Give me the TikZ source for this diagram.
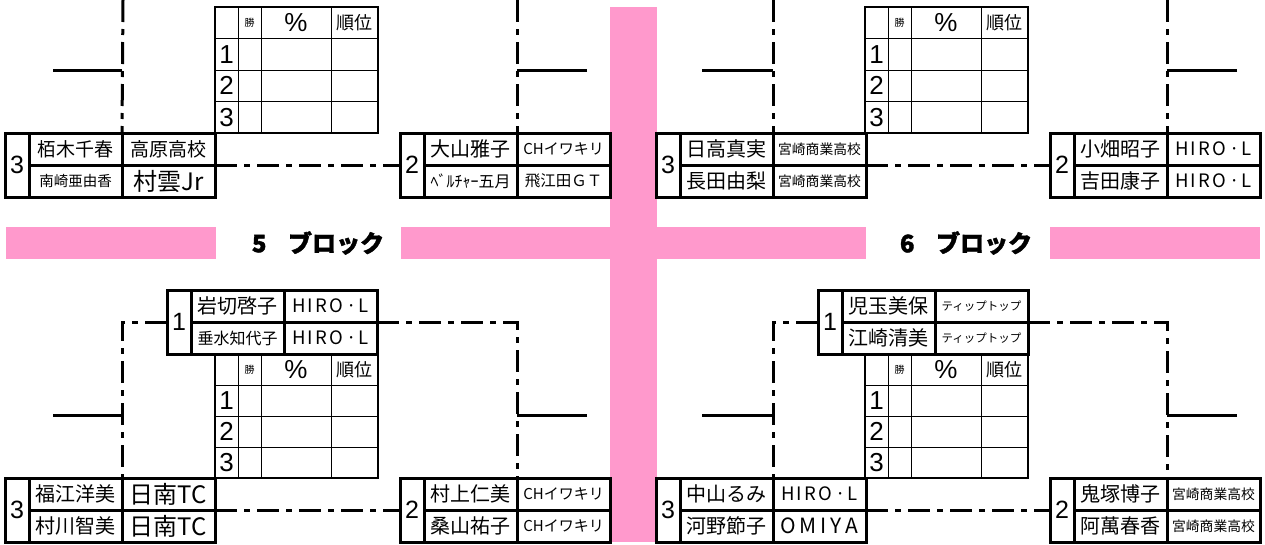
\documentclass[tikz,border=0pt]{standalone}
\usepackage{fontspec}
\setmainfont{Liberation Sans}
\newfontfamily\jp{Noto Sans CJK JP}
\newfontfamily\jpheavy{Noto Sans CJK JP}[FakeBold=1.5]
\usetikzlibrary{calc}
\definecolor{pinkc}{RGB}{255,153,204}
\newcommand\fsz[1]{\fontsize{#1}{#1}\selectfont}
\newcommand\hiro{{\fsz{18.5}\makebox[77pt][s]{H\hfill I\hfill R\hfill O\hfill ·\hfill L}}}
\newcommand\team[8]{%
  \node[tbox, minimum width=210pt, minimum height=64pt, anchor=north west] (#1) at (#2,#3) {};
  \node[tcell, minimum width=24pt, minimum height=64pt, anchor=north west, font=\rmfamily] (#1-k) at (#2,#3) {\fsz{25}#4};
  \node[tcell, minimum width=93pt, minimum height=32pt, anchor=north west] (#1-a) at ({#2+24},#3) {#5};
  \node[tcell, minimum width=93pt, minimum height=32pt, anchor=north west] (#1-b) at ({#2+117},#3) {#6};
  \node[tcell, minimum width=93pt, minimum height=32pt, anchor=north west] (#1-c) at ({#2+24},{#3+32}) {#7};
  \node[tcell, minimum width=93pt, minimum height=32pt, anchor=north west] (#1-d) at ({#2+117},{#3+32}) {#8};
}
\newcommand\restable[4]{%
  \pgfmathsetmacro\rowh{#4/4}
  \foreach \kk in {1,2,3} \draw[gridl] (#2,{#3+\kk*\rowh}) -- ({#2+163},{#3+\kk*\rowh});
  \foreach \cc in {23,46,116} \draw[gridl] ({#2+\cc},#3) -- ({#2+\cc},{#3+#4});
  \draw[gridb] (#2,#3) rectangle ({#2+163},{#3+#4});
  \node[tt] (#1-h1) at ({#2+34.5},{#3+\rowh/2}) {\jp\fsz{10}勝};
  \node[tt] (#1-h2) at ({#2+81},{#3+\rowh/2}) {\fsz{26}\%};
  \node[tt] (#1-h3) at ({#2+139.5},{#3+\rowh/2}) {\jp\fsz{18}順位};
  \node[tt] (#1-r1) at ({#2+11.5},{#3+1.5*\rowh}) {\fsz{26}1};
  \node[tt] (#1-r2) at ({#2+11.5},{#3+2.5*\rowh}) {\fsz{26}2};
  \node[tt] (#1-r3) at ({#2+11.5},{#3+3.5*\rowh}) {\fsz{26}3};
}
\begin{document}
\begin{tikzpicture}[x=1pt,y=-1pt,
  tbox/.style={draw, line width=3pt, inner sep=0pt, outer sep=0pt},
  tcell/.style={draw, line width=3pt, inner sep=0pt, outer sep=0pt, font=\jp},
  gridl/.style={line width=1pt},
  gridb/.style={line width=1.6pt},
  tt/.style={inner sep=0pt},
  dd/.style={line width=3pt, dash pattern=on 22pt off 7pt on 6pt off 7pt},
  stub/.style={line width=3pt},
  title/.style={font=\jpheavy\bfseries\fsz{24}, inner sep=0pt}]
\useasboundingbox (0,0) rectangle (1265,544);
% pink bands
\fill[pinkc] (610,7) rectangle (657,542);
\fill[pinkc] (6,227) rectangle (216,259);
\fill[pinkc] (401,227) rectangle (866,259);
\fill[pinkc] (1050,227) rectangle (1260,259);
\node[title] (t5) at (318,243) {5\hspace{0.9em}ブロック};
\node[title] (t6) at (966,243) {6\hspace{0.9em}ブロック};
% tables
\restable{RA}{215}{7}{126}
\restable{RB}{865}{7}{126}
\restable{RC}{215}{354}{124}
\restable{RD}{865}{354}{124}
% upper teams
\team{TA}{5}{133}{3}{\fsz{19}栢木千春}{\fsz{19}高原高校}{\fsz{14.5}南崎亜由香}{\fsz{24}村雲Jr}
\team{TB}{400}{133}{2}{\fsz{20}大山雅子}{\fsz{15}CHイワキリ}{\fsz{16}ﾍﾞﾙﾁｬｰ五月}{\fsz{15.5}飛江田ＧＴ}
\team{TC}{656}{133}{3}{\fsz{20}日高真実}{\fsz{13.8}宮崎商業高校}{\fsz{20}長田由梨}{\fsz{13.8}宮崎商業高校}
\team{TD}{1050}{133}{2}{\fsz{20}小畑昭子}{\hiro}{\fsz{20}吉田康子}{\hiro}
% lower teams
\team{LA}{167}{290}{1}{\fsz{20}岩切啓子}{\hiro}{\fsz{16}垂水知代子}{\hiro}
\team{LB}{5}{478}{3}{\fsz{20}福江洋美}{\fsz{24}日南TC}{\fsz{20}村川智美}{\fsz{24}日南TC}
\team{LC}{400}{478}{2}{\fsz{20}村上仁美}{\fsz{15}CHイワキリ}{\fsz{20}桑山祐子}{\fsz{15}CHイワキリ}
\team{LD}{818}{290}{1}{\fsz{20}児玉美保}{\fsz{11.5}ティップトップ}{\fsz{20}江崎清美}{\fsz{11.5}ティップトップ}
\team{LE}{656}{478}{3}{\fsz{20}中山るみ}{\hiro}{\fsz{20}河野節子}{\fsz{21}\makebox[78pt][s]{O\hfill M\hfill I\hfill Y\hfill A}}
\team{LF}{1050}{478}{2}{\fsz{20}鬼塚博子}{\fsz{13.8}宮崎商業高校}{\fsz{20}阿萬春香}{\fsz{13.8}宮崎商業高校}
% upper connectors
\coordinate (TAt) at (123,0);
\coordinate (TBt) at (517,0);
\coordinate (TCt) at (773,0);
\coordinate (TDt) at (1167,0);
\coordinate (TAs) at (53,70);
\coordinate (TBs) at (587,70);
\coordinate (TCs) at (702,70);
\coordinate (TDs) at (1237,70);
\draw[dd] (TAt) -- (TA-a.north east);
\draw[dd] (TBt) -- (TB-a.north east);
\draw[dd] (TCt) -- (TC-a.north east);
\draw[dd] (TDt) -- (TD-a.north east);
\draw[stub] (TAs) -- (TAs -| TA-a.north east);
\draw[stub] (TBs) -- (TBs -| TB-a.north east);
\draw[stub] (TCs) -- (TCs -| TC-a.north east);
\draw[stub] (TDs) -- (TDs -| TD-a.north east);
\draw[dd] (TA.east) -- (TB.west);
\draw[dd] (TC.east) -- (TD.west);
% lower connectors
\draw[dd] (LA.west) -| (LB-a.north east);
\draw[dd] (LA.east) -| (LC-a.north east);
\draw[dd] (LD.west) -| (LE-a.north east);
\draw[dd] (LD.east) -| (LF-a.north east);
\coordinate (LBs) at (53,415);
\coordinate (LCs) at (587,415);
\coordinate (LEs) at (702,415);
\coordinate (LFs) at (1237,415);
\draw[stub] (LBs) -- (LBs -| LB-a.north east);
\draw[stub] (LCs) -- (LCs -| LC-a.north east);
\draw[stub] (LEs) -- (LEs -| LE-a.north east);
\draw[stub] (LFs) -- (LFs -| LF-a.north east);
\draw[dd] (LB.east) -- (LC.west);
\draw[dd] (LE.east) -- (LF.west);
\end{tikzpicture}
\end{document}
